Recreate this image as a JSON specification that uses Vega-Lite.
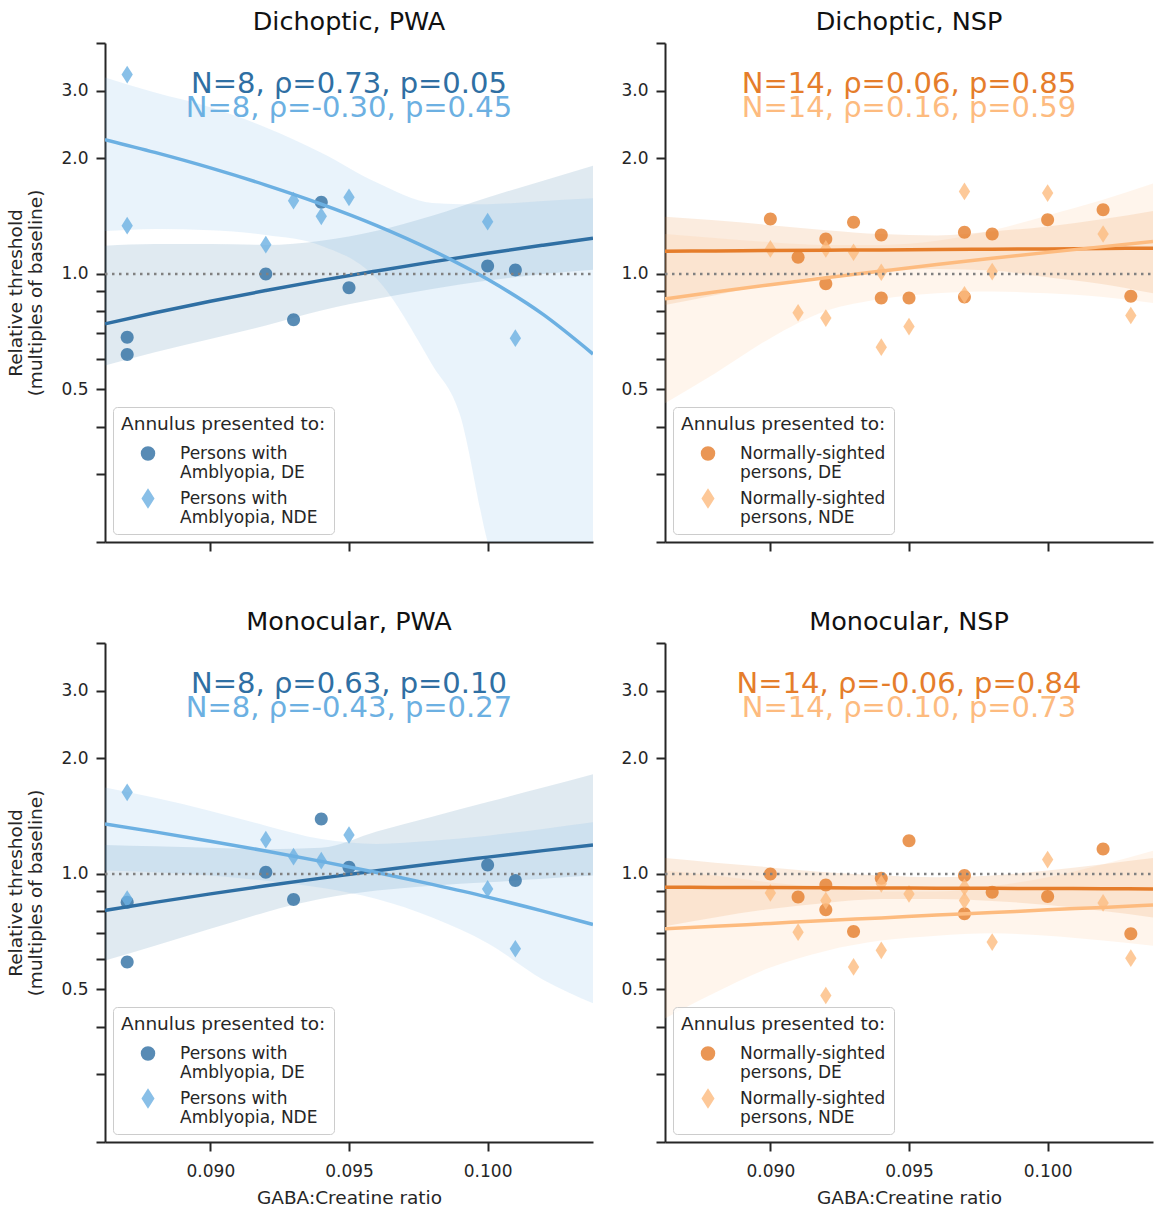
{
  "$schema": "https://vega.github.io/schema/vega-lite/v6.json",
  "padding": {"left": 6, "top": 9, "right": 0, "bottom": 0},
  "datasets": {
    "pts": [
      {"panel":"DP","group":"DE","x":0.087,"y":0.684},{"panel":"DP","group":"DE","x":0.087,"y":0.616},{"panel":"DP","group":"DE","x":0.092,"y":1.0},{"panel":"DP","group":"DE","x":0.093,"y":0.760},{"panel":"DP","group":"DE","x":0.094,"y":1.537},{"panel":"DP","group":"DE","x":0.095,"y":0.920},{"panel":"DP","group":"DE","x":0.100,"y":1.049},{"panel":"DP","group":"DE","x":0.101,"y":1.024},
      {"panel":"DP","group":"NDE","x":0.087,"y":3.31},{"panel":"DP","group":"NDE","x":0.087,"y":1.336},{"panel":"DP","group":"NDE","x":0.092,"y":1.192},{"panel":"DP","group":"NDE","x":0.093,"y":1.552},{"panel":"DP","group":"NDE","x":0.094,"y":1.413},{"panel":"DP","group":"NDE","x":0.095,"y":1.584},{"panel":"DP","group":"NDE","x":0.100,"y":1.368},{"panel":"DP","group":"NDE","x":0.101,"y":0.680},
      {"panel":"DN","group":"DE","x":0.090,"y":1.390},{"panel":"DN","group":"DE","x":0.091,"y":1.105},{"panel":"DN","group":"DE","x":0.092,"y":1.233},{"panel":"DN","group":"DE","x":0.092,"y":0.942},{"panel":"DN","group":"DE","x":0.093,"y":1.363},{"panel":"DN","group":"DE","x":0.094,"y":1.263},{"panel":"DN","group":"DE","x":0.094,"y":0.866},{"panel":"DN","group":"DE","x":0.095,"y":0.866},{"panel":"DN","group":"DE","x":0.097,"y":1.284},{"panel":"DN","group":"DE","x":0.097,"y":0.870},{"panel":"DN","group":"DE","x":0.098,"y":1.271},{"panel":"DN","group":"DE","x":0.100,"y":1.385},{"panel":"DN","group":"DE","x":0.102,"y":1.470},{"panel":"DN","group":"DE","x":0.103,"y":0.875},
      {"panel":"DN","group":"NDE","x":0.090,"y":1.162},{"panel":"DN","group":"NDE","x":0.091,"y":0.792},{"panel":"DN","group":"NDE","x":0.092,"y":1.162},{"panel":"DN","group":"NDE","x":0.092,"y":0.767},{"panel":"DN","group":"NDE","x":0.093,"y":1.139},{"panel":"DN","group":"NDE","x":0.094,"y":1.010},{"panel":"DN","group":"NDE","x":0.094,"y":0.644},{"panel":"DN","group":"NDE","x":0.095,"y":0.729},{"panel":"DN","group":"NDE","x":0.097,"y":1.641},{"panel":"DN","group":"NDE","x":0.097,"y":0.882},{"panel":"DN","group":"NDE","x":0.098,"y":1.014},{"panel":"DN","group":"NDE","x":0.100,"y":1.625},{"panel":"DN","group":"NDE","x":0.102,"y":1.271},{"panel":"DN","group":"NDE","x":0.103,"y":0.779},
      {"panel":"MP","group":"DE","x":0.087,"y":0.844},{"panel":"MP","group":"DE","x":0.087,"y":0.589},{"panel":"MP","group":"DE","x":0.092,"y":1.010},{"panel":"MP","group":"DE","x":0.093,"y":0.857},{"panel":"MP","group":"DE","x":0.094,"y":1.390},{"panel":"MP","group":"DE","x":0.095,"y":1.041},{"panel":"MP","group":"DE","x":0.100,"y":1.055},{"panel":"MP","group":"DE","x":0.101,"y":0.961},
      {"panel":"MP","group":"NDE","x":0.087,"y":1.632},{"panel":"MP","group":"NDE","x":0.087,"y":0.86},{"panel":"MP","group":"NDE","x":0.092,"y":1.228},{"panel":"MP","group":"NDE","x":0.093,"y":1.109},{"panel":"MP","group":"NDE","x":0.094,"y":1.083},{"panel":"MP","group":"NDE","x":0.095,"y":1.263},{"panel":"MP","group":"NDE","x":0.100,"y":0.914},{"panel":"MP","group":"NDE","x":0.101,"y":0.638},
      {"panel":"MN","group":"DE","x":0.090,"y":1.0},{"panel":"MN","group":"DE","x":0.091,"y":0.870},{"panel":"MN","group":"DE","x":0.092,"y":0.936},{"panel":"MN","group":"DE","x":0.092,"y":0.806},{"panel":"MN","group":"DE","x":0.093,"y":0.708},{"panel":"MN","group":"DE","x":0.094,"y":0.975},{"panel":"MN","group":"DE","x":0.095,"y":1.221},{"panel":"MN","group":"DE","x":0.097,"y":0.99},{"panel":"MN","group":"DE","x":0.097,"y":0.787},{"panel":"MN","group":"DE","x":0.098,"y":0.896},{"panel":"MN","group":"DE","x":0.100,"y":0.873},{"panel":"MN","group":"DE","x":0.102,"y":1.162},{"panel":"MN","group":"DE","x":0.103,"y":0.698},
      {"panel":"MN","group":"NDE","x":0.090,"y":0.892},{"panel":"MN","group":"NDE","x":0.091,"y":0.705},{"panel":"MN","group":"NDE","x":0.092,"y":0.852},{"panel":"MN","group":"NDE","x":0.092,"y":0.482},{"panel":"MN","group":"NDE","x":0.093,"y":0.572},{"panel":"MN","group":"NDE","x":0.094,"y":0.942},{"panel":"MN","group":"NDE","x":0.094,"y":0.632},{"panel":"MN","group":"NDE","x":0.095,"y":0.887},{"panel":"MN","group":"NDE","x":0.097,"y":0.923},{"panel":"MN","group":"NDE","x":0.097,"y":0.852},{"panel":"MN","group":"NDE","x":0.098,"y":0.664},{"panel":"MN","group":"NDE","x":0.100,"y":1.09},{"panel":"MN","group":"NDE","x":0.102,"y":0.840},{"panel":"MN","group":"NDE","x":0.103,"y":0.603}
    ],
    "fit": [
      {"panel":"DP","group":"DE","x":0.0862,"y":0.741},{"panel":"DP","group":"DE","x":0.088,"y":0.792},{"panel":"DP","group":"DE","x":0.090,"y":0.849},{"panel":"DP","group":"DE","x":0.092,"y":0.905},{"panel":"DP","group":"DE","x":0.094,"y":0.962},{"panel":"DP","group":"DE","x":0.096,"y":1.018},{"panel":"DP","group":"DE","x":0.098,"y":1.075},{"panel":"DP","group":"DE","x":0.100,"y":1.132},{"panel":"DP","group":"DE","x":0.102,"y":1.188},{"panel":"DP","group":"DE","x":0.1038,"y":1.239},
      {"panel":"DP","group":"NDE","x":0.0862,"y":2.240},{"panel":"DP","group":"NDE","x":0.088,"y":2.074},{"panel":"DP","group":"NDE","x":0.090,"y":1.890},{"panel":"DP","group":"NDE","x":0.092,"y":1.705},{"panel":"DP","group":"NDE","x":0.094,"y":1.521},{"panel":"DP","group":"NDE","x":0.096,"y":1.337},{"panel":"DP","group":"NDE","x":0.098,"y":1.152},{"panel":"DP","group":"NDE","x":0.100,"y":0.968},{"panel":"DP","group":"NDE","x":0.102,"y":0.784},{"panel":"DP","group":"NDE","x":0.1038,"y":0.618},
      {"panel":"DN","group":"DE","x":0.0862,"y":1.146},{"panel":"DN","group":"DE","x":0.088,"y":1.148},{"panel":"DN","group":"DE","x":0.090,"y":1.151},{"panel":"DN","group":"DE","x":0.092,"y":1.153},{"panel":"DN","group":"DE","x":0.094,"y":1.155},{"panel":"DN","group":"DE","x":0.096,"y":1.158},{"panel":"DN","group":"DE","x":0.098,"y":1.160},{"panel":"DN","group":"DE","x":0.100,"y":1.162},{"panel":"DN","group":"DE","x":0.102,"y":1.165},{"panel":"DN","group":"DE","x":0.1038,"y":1.167},
      {"panel":"DN","group":"NDE","x":0.0862,"y":0.861},{"panel":"DN","group":"NDE","x":0.088,"y":0.897},{"panel":"DN","group":"NDE","x":0.090,"y":0.937},{"panel":"DN","group":"NDE","x":0.092,"y":0.977},{"panel":"DN","group":"NDE","x":0.094,"y":1.017},{"panel":"DN","group":"NDE","x":0.096,"y":1.058},{"panel":"DN","group":"NDE","x":0.098,"y":1.098},{"panel":"DN","group":"NDE","x":0.100,"y":1.138},{"panel":"DN","group":"NDE","x":0.102,"y":1.178},{"panel":"DN","group":"NDE","x":0.1038,"y":1.214},
      {"panel":"MP","group":"DE","x":0.0862,"y":0.803},{"panel":"MP","group":"DE","x":0.088,"y":0.843},{"panel":"MP","group":"DE","x":0.090,"y":0.887},{"panel":"MP","group":"DE","x":0.092,"y":0.931},{"panel":"MP","group":"DE","x":0.094,"y":0.975},{"panel":"MP","group":"DE","x":0.096,"y":1.019},{"panel":"MP","group":"DE","x":0.098,"y":1.063},{"panel":"MP","group":"DE","x":0.100,"y":1.106},{"panel":"MP","group":"DE","x":0.102,"y":1.150},{"panel":"MP","group":"DE","x":0.1038,"y":1.190},
      {"panel":"MP","group":"NDE","x":0.0862,"y":1.349},{"panel":"MP","group":"NDE","x":0.088,"y":1.287},{"panel":"MP","group":"NDE","x":0.090,"y":1.217},{"panel":"MP","group":"NDE","x":0.092,"y":1.148},{"panel":"MP","group":"NDE","x":0.094,"y":1.078},{"panel":"MP","group":"NDE","x":0.096,"y":1.009},{"panel":"MP","group":"NDE","x":0.098,"y":0.939},{"panel":"MP","group":"NDE","x":0.100,"y":0.870},{"panel":"MP","group":"NDE","x":0.102,"y":0.800},{"panel":"MP","group":"NDE","x":0.1038,"y":0.738},
      {"panel":"MN","group":"DE","x":0.0862,"y":0.923},{"panel":"MN","group":"DE","x":0.088,"y":0.922},{"panel":"MN","group":"DE","x":0.090,"y":0.921},{"panel":"MN","group":"DE","x":0.092,"y":0.920},{"panel":"MN","group":"DE","x":0.094,"y":0.919},{"panel":"MN","group":"DE","x":0.096,"y":0.918},{"panel":"MN","group":"DE","x":0.098,"y":0.917},{"panel":"MN","group":"DE","x":0.100,"y":0.916},{"panel":"MN","group":"DE","x":0.102,"y":0.915},{"panel":"MN","group":"DE","x":0.1038,"y":0.914},
      {"panel":"MN","group":"NDE","x":0.0862,"y":0.719},{"panel":"MN","group":"NDE","x":0.088,"y":0.730},{"panel":"MN","group":"NDE","x":0.090,"y":0.743},{"panel":"MN","group":"NDE","x":0.092,"y":0.756},{"panel":"MN","group":"NDE","x":0.094,"y":0.768},{"panel":"MN","group":"NDE","x":0.096,"y":0.781},{"panel":"MN","group":"NDE","x":0.098,"y":0.793},{"panel":"MN","group":"NDE","x":0.100,"y":0.806},{"panel":"MN","group":"NDE","x":0.102,"y":0.818},{"panel":"MN","group":"NDE","x":0.1038,"y":0.830}
    ],
    "ci": [
      {"panel":"DP","group":"DE","x":0.0862,"y":0.577,"y2":1.185},{"panel":"DP","group":"DE","x":0.088,"y":0.625,"y2":1.197},{"panel":"DP","group":"DE","x":0.090,"y":0.677,"y2":1.197},{"panel":"DP","group":"DE","x":0.092,"y":0.734,"y2":1.19},{"panel":"DP","group":"DE","x":0.094,"y":0.803,"y2":1.221},{"panel":"DP","group":"DE","x":0.096,"y":0.861,"y2":1.296},{"panel":"DP","group":"DE","x":0.098,"y":0.914,"y2":1.418},{"panel":"DP","group":"DE","x":0.100,"y":0.961,"y2":1.583},{"panel":"DP","group":"DE","x":0.102,"y":1.0,"y2":1.75},{"panel":"DP","group":"DE","x":0.1038,"y":1.026,"y2":1.914},
      {"panel":"DP","group":"NDE","x":0.0862,"y":1.293,"y2":3.25},{"panel":"DP","group":"NDE","x":0.088,"y":1.31,"y2":2.97},{"panel":"DP","group":"NDE","x":0.090,"y":1.30,"y2":2.72},{"panel":"DP","group":"NDE","x":0.092,"y":1.263,"y2":2.41},{"panel":"DP","group":"NDE","x":0.094,"y":1.185,"y2":2.07},{"panel":"DP","group":"NDE","x":0.096,"y":0.971,"y2":1.73},{"panel":"DP","group":"NDE","x":0.098,"y":0.58,"y2":1.53},{"panel":"DP","group":"NDE","x":0.099,"y":0.43,"y2":1.52},{"panel":"DP","group":"NDE","x":0.100,"y":0.2,"y2":1.52},{"panel":"DP","group":"NDE","x":0.102,"y":0.1,"y2":1.55},{"panel":"DP","group":"NDE","x":0.1038,"y":0.1,"y2":1.575},
      {"panel":"DN","group":"DE","x":0.0862,"y":0.83,"y2":1.41},{"panel":"DN","group":"DE","x":0.088,"y":0.88,"y2":1.38},{"panel":"DN","group":"DE","x":0.090,"y":0.94,"y2":1.34},{"panel":"DN","group":"DE","x":0.092,"y":0.99,"y2":1.30},{"panel":"DN","group":"DE","x":0.094,"y":1.02,"y2":1.27},{"panel":"DN","group":"DE","x":0.096,"y":1.03,"y2":1.26},{"panel":"DN","group":"DE","x":0.098,"y":1.02,"y2":1.29},{"panel":"DN","group":"DE","x":0.100,"y":0.98,"y2":1.33},{"panel":"DN","group":"DE","x":0.102,"y":0.94,"y2":1.39},{"panel":"DN","group":"DE","x":0.1038,"y":0.89,"y2":1.46},
      {"panel":"DN","group":"NDE","x":0.0862,"y":0.46,"y2":1.27},{"panel":"DN","group":"NDE","x":0.088,"y":0.55,"y2":1.24},{"panel":"DN","group":"NDE","x":0.090,"y":0.68,"y2":1.21},{"panel":"DN","group":"NDE","x":0.092,"y":0.80,"y2":1.19},{"panel":"DN","group":"NDE","x":0.094,"y":0.86,"y2":1.19},{"panel":"DN","group":"NDE","x":0.096,"y":0.89,"y2":1.22},{"panel":"DN","group":"NDE","x":0.098,"y":0.90,"y2":1.30},{"panel":"DN","group":"NDE","x":0.100,"y":0.89,"y2":1.42},{"panel":"DN","group":"NDE","x":0.102,"y":0.87,"y2":1.56},{"panel":"DN","group":"NDE","x":0.1038,"y":0.84,"y2":1.72},
      {"panel":"MP","group":"DE","x":0.0862,"y":0.595,"y2":1.19},{"panel":"MP","group":"DE","x":0.088,"y":0.65,"y2":1.18},{"panel":"MP","group":"DE","x":0.090,"y":0.719,"y2":1.17},{"panel":"MP","group":"DE","x":0.092,"y":0.795,"y2":1.16},{"panel":"MP","group":"DE","x":0.094,"y":0.861,"y2":1.17},{"panel":"MP","group":"DE","x":0.096,"y":0.905,"y2":1.29},{"panel":"MP","group":"DE","x":0.098,"y":0.932,"y2":1.41},{"panel":"MP","group":"DE","x":0.100,"y":0.951,"y2":1.54},{"panel":"MP","group":"DE","x":0.102,"y":0.971,"y2":1.68},{"panel":"MP","group":"DE","x":0.1038,"y":0.99,"y2":1.82},
      {"panel":"MP","group":"NDE","x":0.0862,"y":1.02,"y2":1.68},{"panel":"MP","group":"NDE","x":0.088,"y":1.01,"y2":1.58},{"panel":"MP","group":"NDE","x":0.090,"y":0.99,"y2":1.46},{"panel":"MP","group":"NDE","x":0.092,"y":0.96,"y2":1.336},{"panel":"MP","group":"NDE","x":0.094,"y":0.92,"y2":1.233},{"panel":"MP","group":"NDE","x":0.096,"y":0.86,"y2":1.197},{"panel":"MP","group":"NDE","x":0.098,"y":0.77,"y2":1.22},{"panel":"MP","group":"NDE","x":0.100,"y":0.66,"y2":1.258},{"panel":"MP","group":"NDE","x":0.102,"y":0.53,"y2":1.31},{"panel":"MP","group":"NDE","x":0.1038,"y":0.46,"y2":1.363},
      {"panel":"MN","group":"DE","x":0.0862,"y":0.73,"y2":1.10},{"panel":"MN","group":"DE","x":0.088,"y":0.77,"y2":1.07},{"panel":"MN","group":"DE","x":0.090,"y":0.81,"y2":1.04},{"panel":"MN","group":"DE","x":0.092,"y":0.84,"y2":1.01},{"panel":"MN","group":"DE","x":0.094,"y":0.86,"y2":0.99},{"panel":"MN","group":"DE","x":0.096,"y":0.86,"y2":0.98},{"panel":"MN","group":"DE","x":0.098,"y":0.85,"y2":0.99},{"panel":"MN","group":"DE","x":0.100,"y":0.83,"y2":1.02},{"panel":"MN","group":"DE","x":0.102,"y":0.80,"y2":1.06},{"panel":"MN","group":"DE","x":0.1038,"y":0.77,"y2":1.10},
      {"panel":"MN","group":"NDE","x":0.0862,"y":0.42,"y2":1.02},{"panel":"MN","group":"NDE","x":0.088,"y":0.49,"y2":0.99},{"panel":"MN","group":"NDE","x":0.090,"y":0.57,"y2":0.95},{"panel":"MN","group":"NDE","x":0.092,"y":0.63,"y2":0.92},{"panel":"MN","group":"NDE","x":0.094,"y":0.67,"y2":0.90},{"panel":"MN","group":"NDE","x":0.096,"y":0.69,"y2":0.90},{"panel":"MN","group":"NDE","x":0.098,"y":0.70,"y2":0.93},{"panel":"MN","group":"NDE","x":0.100,"y":0.69,"y2":0.98},{"panel":"MN","group":"NDE","x":0.102,"y":0.67,"y2":1.06},{"panel":"MN","group":"NDE","x":0.1038,"y":0.65,"y2":1.15}
    ]
  },
  "columns": 2,
  "spacing": {"row": 101, "column": 72},
  "bounds": "flush",
  "resolve": {
    "scale": {"x": "independent", "y": "independent", "color": "independent", "shape": "independent", "fill": "independent", "stroke": "independent"},
    "legend": {"color": "independent", "shape": "independent", "fill": "independent", "stroke": "independent"}
  },
  "concat": [
    {
      "title": "Dichoptic, PWA",
      "width": 488, "height": 499,
      "layer": [
        {"data": {"name": "ci"}, "transform": [{"filter": "datum.panel == 'DP'"}], "mark": {"type": "area", "fillOpacity": 0.15, "clip": true, "interpolate": "monotone"}, "encoding": {
          "x": {"field": "x", "type": "quantitative", "scale": {"domain": [0.0862, 0.1038], "nice": false, "zero": false}, "axis": {"values": [0.09, 0.095, 0.1], "labels": false, "title": null}},
          "y": {"field": "y", "type": "quantitative", "scale": {"type": "log", "domain": [0.2, 4], "nice": false}, "axis": {"values": [0.2,0.3,0.4,0.5,0.6,0.7,0.8,0.9,1,2,3,4], "labelExpr": "(datum.value == 0.5 || datum.value == 1 || datum.value == 2 || datum.value == 3) ? format(datum.value, '.1f') : ''", "labelOverlap": false, "title": ["Relative threshold", "(multiples of baseline)"]}},
          "y2": {"field": "y2"},
          "fill": {"field": "group", "type": "nominal", "scale": {"domain": ["DE", "NDE"], "range": ["#2f6fa3", "#6cb0e2"]}, "legend": {"title": "Annulus presented to:", "labelExpr": "datum.label == 'DE' ? ['Persons with', 'Amblyopia, DE'] : ['Persons with', 'Amblyopia, NDE']"}}}},
        {"data": {"name": "pts"}, "transform": [{"filter": "datum.panel == 'DP'"}], "mark": {"type": "point", "filled": true, "opacity": 0.8, "size": 313}, "encoding": {
          "x": {"field": "x", "type": "quantitative"},
          "y": {"field": "y", "type": "quantitative"},
          "color": {"field": "group", "type": "nominal", "scale": {"domain": ["DE", "NDE"], "range": ["#2f6fa3", "#6cb0e2"]}, "legend": {"title": "Annulus presented to:", "labelExpr": "datum.label == 'DE' ? ['Persons with', 'Amblyopia, DE'] : ['Persons with', 'Amblyopia, NDE']"}},
          "shape": {"field": "group", "type": "nominal", "scale": {"domain": ["DE", "NDE"], "range": ["M-0.735,0A0.735,0.735,0,1,0,0.735,0A0.735,0.735,0,1,0,-0.735,0Z", "M0,-1L0.64,0L0,1L-0.64,0Z"]}, "legend": {"title": "Annulus presented to:", "labelExpr": "datum.label == 'DE' ? ['Persons with', 'Amblyopia, DE'] : ['Persons with', 'Amblyopia, NDE']"}}}},
        {"data": {"name": "fit"}, "transform": [{"filter": "datum.panel == 'DP'"}], "mark": {"type": "line", "strokeWidth": 3.5, "clip": true, "interpolate": "monotone"}, "encoding": {
          "x": {"field": "x", "type": "quantitative"},
          "y": {"field": "y", "type": "quantitative"},
          "stroke": {"field": "group", "type": "nominal", "scale": {"domain": ["DE", "NDE"], "range": ["#2f6fa3", "#6cb0e2"]}, "legend": {"title": "Annulus presented to:", "labelExpr": "datum.label == 'DE' ? ['Persons with', 'Amblyopia, DE'] : ['Persons with', 'Amblyopia, NDE']"}}}},
        {"data": {"values": [{"ref": "baseline"}]}, "mark": {"type": "rule", "color": "#808080", "strokeWidth": 2.5, "strokeDash": [2.5, 4.5]}, "encoding": {"x": {"datum": 0.0862}, "x2": {"datum": 0.1038}, "y": {"datum": 1}}},
        {"data": {"values": [{"label": "N=8, ρ=0.73, p=0.05"}]}, "mark": {"type": "text", "fontSize": 29, "align": "center", "baseline": "alphabetic", "color": "#2f6fa3"}, "encoding": {"x": {"datum": 0.095}, "y": {"datum": 2.97}, "text": {"field": "label"}}},
        {"data": {"values": [{"label": "N=8, ρ=-0.30, p=0.45"}]}, "mark": {"type": "text", "fontSize": 29, "align": "center", "baseline": "alphabetic", "color": "#6cb0e2"}, "encoding": {"x": {"datum": 0.095}, "y": {"datum": 2.558}, "text": {"field": "label"}}}
      ]
    },
    {
      "title": "Dichoptic, NSP",
      "width": 488, "height": 499,
      "layer": [
        {"data": {"name": "ci"}, "transform": [{"filter": "datum.panel == 'DN'"}], "mark": {"type": "area", "fillOpacity": 0.15, "clip": true, "interpolate": "monotone"}, "encoding": {
          "x": {"field": "x", "type": "quantitative", "scale": {"domain": [0.0862, 0.1038], "nice": false, "zero": false}, "axis": {"values": [0.09, 0.095, 0.1], "labels": false, "title": null}},
          "y": {"field": "y", "type": "quantitative", "scale": {"type": "log", "domain": [0.2, 4], "nice": false}, "axis": {"values": [0.2,0.3,0.4,0.5,0.6,0.7,0.8,0.9,1,2,3,4], "labelExpr": "(datum.value == 0.5 || datum.value == 1 || datum.value == 2 || datum.value == 3) ? format(datum.value, '.1f') : ''", "labelOverlap": false, "title": null}},
          "y2": {"field": "y2"},
          "fill": {"field": "group", "type": "nominal", "scale": {"domain": ["DE", "NDE"], "range": ["#e57d2b", "#fdbb7f"]}, "legend": {"title": "Annulus presented to:", "labelExpr": "datum.label == 'DE' ? ['Normally-sighted', 'persons, DE'] : ['Normally-sighted', 'persons, NDE']"}}}},
        {"data": {"name": "pts"}, "transform": [{"filter": "datum.panel == 'DN'"}], "mark": {"type": "point", "filled": true, "opacity": 0.8, "size": 313}, "encoding": {
          "x": {"field": "x", "type": "quantitative"},
          "y": {"field": "y", "type": "quantitative"},
          "color": {"field": "group", "type": "nominal", "scale": {"domain": ["DE", "NDE"], "range": ["#e57d2b", "#fdbb7f"]}, "legend": {"title": "Annulus presented to:", "labelExpr": "datum.label == 'DE' ? ['Normally-sighted', 'persons, DE'] : ['Normally-sighted', 'persons, NDE']"}},
          "shape": {"field": "group", "type": "nominal", "scale": {"domain": ["DE", "NDE"], "range": ["M-0.735,0A0.735,0.735,0,1,0,0.735,0A0.735,0.735,0,1,0,-0.735,0Z", "M0,-1L0.64,0L0,1L-0.64,0Z"]}, "legend": {"title": "Annulus presented to:", "labelExpr": "datum.label == 'DE' ? ['Normally-sighted', 'persons, DE'] : ['Normally-sighted', 'persons, NDE']"}}}},
        {"data": {"name": "fit"}, "transform": [{"filter": "datum.panel == 'DN'"}], "mark": {"type": "line", "strokeWidth": 3.5, "clip": true, "interpolate": "monotone"}, "encoding": {
          "x": {"field": "x", "type": "quantitative"},
          "y": {"field": "y", "type": "quantitative"},
          "stroke": {"field": "group", "type": "nominal", "scale": {"domain": ["DE", "NDE"], "range": ["#e57d2b", "#fdbb7f"]}, "legend": {"title": "Annulus presented to:", "labelExpr": "datum.label == 'DE' ? ['Normally-sighted', 'persons, DE'] : ['Normally-sighted', 'persons, NDE']"}}}},
        {"data": {"values": [{"ref": "baseline"}]}, "mark": {"type": "rule", "color": "#808080", "strokeWidth": 2.5, "strokeDash": [2.5, 4.5]}, "encoding": {"x": {"datum": 0.0862}, "x2": {"datum": 0.1038}, "y": {"datum": 1}}},
        {"data": {"values": [{"label": "N=14, ρ=0.06, p=0.85"}]}, "mark": {"type": "text", "fontSize": 29, "align": "center", "baseline": "alphabetic", "color": "#e57d2b"}, "encoding": {"x": {"datum": 0.095}, "y": {"datum": 2.97}, "text": {"field": "label"}}},
        {"data": {"values": [{"label": "N=14, ρ=0.16, p=0.59"}]}, "mark": {"type": "text", "fontSize": 29, "align": "center", "baseline": "alphabetic", "color": "#fdbb7f"}, "encoding": {"x": {"datum": 0.095}, "y": {"datum": 2.558}, "text": {"field": "label"}}}
      ]
    },
    {
      "title": "Monocular, PWA",
      "width": 488, "height": 499,
      "layer": [
        {"data": {"name": "ci"}, "transform": [{"filter": "datum.panel == 'MP'"}], "mark": {"type": "area", "fillOpacity": 0.15, "clip": true, "interpolate": "monotone"}, "encoding": {
          "x": {"field": "x", "type": "quantitative", "scale": {"domain": [0.0862, 0.1038], "nice": false, "zero": false}, "axis": {"values": [0.09, 0.095, 0.1], "format": ".3f", "title": "GABA:Creatine ratio"}},
          "y": {"field": "y", "type": "quantitative", "scale": {"type": "log", "domain": [0.2, 4], "nice": false}, "axis": {"values": [0.2,0.3,0.4,0.5,0.6,0.7,0.8,0.9,1,2,3,4], "labelExpr": "(datum.value == 0.5 || datum.value == 1 || datum.value == 2 || datum.value == 3) ? format(datum.value, '.1f') : ''", "labelOverlap": false, "title": ["Relative threshold", "(multiples of baseline)"]}},
          "y2": {"field": "y2"},
          "fill": {"field": "group", "type": "nominal", "scale": {"domain": ["DE", "NDE"], "range": ["#2f6fa3", "#6cb0e2"]}, "legend": {"title": "Annulus presented to:", "labelExpr": "datum.label == 'DE' ? ['Persons with', 'Amblyopia, DE'] : ['Persons with', 'Amblyopia, NDE']"}}}},
        {"data": {"name": "pts"}, "transform": [{"filter": "datum.panel == 'MP'"}], "mark": {"type": "point", "filled": true, "opacity": 0.8, "size": 313}, "encoding": {
          "x": {"field": "x", "type": "quantitative"},
          "y": {"field": "y", "type": "quantitative"},
          "color": {"field": "group", "type": "nominal", "scale": {"domain": ["DE", "NDE"], "range": ["#2f6fa3", "#6cb0e2"]}, "legend": {"title": "Annulus presented to:", "labelExpr": "datum.label == 'DE' ? ['Persons with', 'Amblyopia, DE'] : ['Persons with', 'Amblyopia, NDE']"}},
          "shape": {"field": "group", "type": "nominal", "scale": {"domain": ["DE", "NDE"], "range": ["M-0.735,0A0.735,0.735,0,1,0,0.735,0A0.735,0.735,0,1,0,-0.735,0Z", "M0,-1L0.64,0L0,1L-0.64,0Z"]}, "legend": {"title": "Annulus presented to:", "labelExpr": "datum.label == 'DE' ? ['Persons with', 'Amblyopia, DE'] : ['Persons with', 'Amblyopia, NDE']"}}}},
        {"data": {"name": "fit"}, "transform": [{"filter": "datum.panel == 'MP'"}], "mark": {"type": "line", "strokeWidth": 3.5, "clip": true, "interpolate": "monotone"}, "encoding": {
          "x": {"field": "x", "type": "quantitative"},
          "y": {"field": "y", "type": "quantitative"},
          "stroke": {"field": "group", "type": "nominal", "scale": {"domain": ["DE", "NDE"], "range": ["#2f6fa3", "#6cb0e2"]}, "legend": {"title": "Annulus presented to:", "labelExpr": "datum.label == 'DE' ? ['Persons with', 'Amblyopia, DE'] : ['Persons with', 'Amblyopia, NDE']"}}}},
        {"data": {"values": [{"ref": "baseline"}]}, "mark": {"type": "rule", "color": "#808080", "strokeWidth": 2.5, "strokeDash": [2.5, 4.5]}, "encoding": {"x": {"datum": 0.0862}, "x2": {"datum": 0.1038}, "y": {"datum": 1}}},
        {"data": {"values": [{"label": "N=8, ρ=0.63, p=0.10"}]}, "mark": {"type": "text", "fontSize": 29, "align": "center", "baseline": "alphabetic", "color": "#2f6fa3"}, "encoding": {"x": {"datum": 0.095}, "y": {"datum": 2.97}, "text": {"field": "label"}}},
        {"data": {"values": [{"label": "N=8, ρ=-0.43, p=0.27"}]}, "mark": {"type": "text", "fontSize": 29, "align": "center", "baseline": "alphabetic", "color": "#6cb0e2"}, "encoding": {"x": {"datum": 0.095}, "y": {"datum": 2.558}, "text": {"field": "label"}}}
      ]
    },
    {
      "title": "Monocular, NSP",
      "width": 488, "height": 499,
      "layer": [
        {"data": {"name": "ci"}, "transform": [{"filter": "datum.panel == 'MN'"}], "mark": {"type": "area", "fillOpacity": 0.15, "clip": true, "interpolate": "monotone"}, "encoding": {
          "x": {"field": "x", "type": "quantitative", "scale": {"domain": [0.0862, 0.1038], "nice": false, "zero": false}, "axis": {"values": [0.09, 0.095, 0.1], "format": ".3f", "title": "GABA:Creatine ratio"}},
          "y": {"field": "y", "type": "quantitative", "scale": {"type": "log", "domain": [0.2, 4], "nice": false}, "axis": {"values": [0.2,0.3,0.4,0.5,0.6,0.7,0.8,0.9,1,2,3,4], "labelExpr": "(datum.value == 0.5 || datum.value == 1 || datum.value == 2 || datum.value == 3) ? format(datum.value, '.1f') : ''", "labelOverlap": false, "title": null}},
          "y2": {"field": "y2"},
          "fill": {"field": "group", "type": "nominal", "scale": {"domain": ["DE", "NDE"], "range": ["#e57d2b", "#fdbb7f"]}, "legend": {"title": "Annulus presented to:", "labelExpr": "datum.label == 'DE' ? ['Normally-sighted', 'persons, DE'] : ['Normally-sighted', 'persons, NDE']"}}}},
        {"data": {"name": "pts"}, "transform": [{"filter": "datum.panel == 'MN'"}], "mark": {"type": "point", "filled": true, "opacity": 0.8, "size": 313}, "encoding": {
          "x": {"field": "x", "type": "quantitative"},
          "y": {"field": "y", "type": "quantitative"},
          "color": {"field": "group", "type": "nominal", "scale": {"domain": ["DE", "NDE"], "range": ["#e57d2b", "#fdbb7f"]}, "legend": {"title": "Annulus presented to:", "labelExpr": "datum.label == 'DE' ? ['Normally-sighted', 'persons, DE'] : ['Normally-sighted', 'persons, NDE']"}},
          "shape": {"field": "group", "type": "nominal", "scale": {"domain": ["DE", "NDE"], "range": ["M-0.735,0A0.735,0.735,0,1,0,0.735,0A0.735,0.735,0,1,0,-0.735,0Z", "M0,-1L0.64,0L0,1L-0.64,0Z"]}, "legend": {"title": "Annulus presented to:", "labelExpr": "datum.label == 'DE' ? ['Normally-sighted', 'persons, DE'] : ['Normally-sighted', 'persons, NDE']"}}}},
        {"data": {"name": "fit"}, "transform": [{"filter": "datum.panel == 'MN'"}], "mark": {"type": "line", "strokeWidth": 3.5, "clip": true, "interpolate": "monotone"}, "encoding": {
          "x": {"field": "x", "type": "quantitative"},
          "y": {"field": "y", "type": "quantitative"},
          "stroke": {"field": "group", "type": "nominal", "scale": {"domain": ["DE", "NDE"], "range": ["#e57d2b", "#fdbb7f"]}, "legend": {"title": "Annulus presented to:", "labelExpr": "datum.label == 'DE' ? ['Normally-sighted', 'persons, DE'] : ['Normally-sighted', 'persons, NDE']"}}}},
        {"data": {"values": [{"ref": "baseline"}]}, "mark": {"type": "rule", "color": "#808080", "strokeWidth": 2.5, "strokeDash": [2.5, 4.5]}, "encoding": {"x": {"datum": 0.0862}, "x2": {"datum": 0.1038}, "y": {"datum": 1}}},
        {"data": {"values": [{"label": "N=14, ρ=-0.06, p=0.84"}]}, "mark": {"type": "text", "fontSize": 29, "align": "center", "baseline": "alphabetic", "color": "#e57d2b"}, "encoding": {"x": {"datum": 0.095}, "y": {"datum": 2.97}, "text": {"field": "label"}}},
        {"data": {"values": [{"label": "N=14, ρ=0.10, p=0.73"}]}, "mark": {"type": "text", "fontSize": 29, "align": "center", "baseline": "alphabetic", "color": "#fdbb7f"}, "encoding": {"x": {"datum": 0.095}, "y": {"datum": 2.558}, "text": {"field": "label"}}}
      ]
    }
  ],
  "config": {
    "font": "DejaVu Sans",
    "view": {"stroke": null},
    "axis": {"grid": false, "domainColor": "#262626", "domainWidth": 2, "tickColor": "#262626", "tickWidth": 2, "tickSize": 9, "labelFontSize": 17, "labelColor": "#262626", "labelPadding": 8, "titleFontSize": 18.5, "titleFontWeight": "normal", "titleColor": "#262626", "titlePadding": 7},
    "axisX": {"labelPadding": 12, "titlePadding": 9},
    "axisY": {"titlePadding": 15},
    "title": {"fontSize": 25.5, "fontWeight": "normal", "color": "#111111", "offset": -1},
    "legend": {"orient": "bottom-left", "offset": 8, "padding": 8, "fillColor": "rgba(255,255,255,0.8)", "strokeColor": "#cccccc", "cornerRadius": 4, "titleFontSize": 18.5, "titleFontWeight": "normal", "titleColor": "#262626", "titleLimit": 0, "titlePadding": 10, "labelFontSize": 17, "labelColor": "#262626", "labelLimit": 0, "labelOffset": 22, "symbolOffset": 17, "symbolSize": 313, "rowPadding": 6}
  }
}
